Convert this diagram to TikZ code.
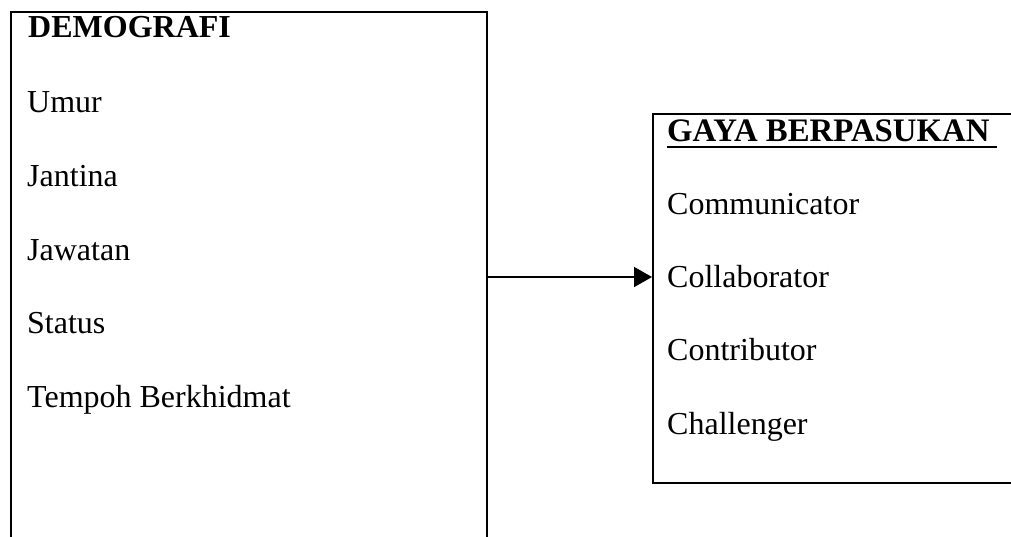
\documentclass[tikz,border=0pt]{standalone}
\usepackage{fontspec}
\setmainfont{Liberation Serif}
\usetikzlibrary{arrows.meta}
\begin{document}
\begin{tikzpicture}[x=1pt,y=-1pt,
  lbl/.style={anchor=base west, inner sep=0pt, font=\fontsize{32}{38}\selectfont},
  headlbl/.style={anchor=base west, inner sep=0pt, font=\fontsize{32}{38}\selectfont\bfseries},
  frame/.style={draw=black, line width=1.6pt, anchor=north west, inner sep=0pt},
  conn/.style={draw=black, line width=1.6pt, -{Triangle[length=18pt,width=20pt]}}]
\clip (0,0) rectangle (1011,536);
\useasboundingbox (0,0) rectangle (1011,536);
% boxes
\node[frame, minimum width=476pt, minimum height=560pt] (demo) at (10,11) {};
\node[frame, minimum width=420pt, minimum height=369pt] (gaya) at (652,113) {};
% left texts
\node[headlbl] (t0) at (28,37) {DEMOGRAFI};
\node[lbl] (t1) at (27,112) {Umur};
\node[lbl] (t2) at (27,186) {Jantina};
\node[lbl] (t3) at (27,260) {Jawatan};
\node[lbl] (t4) at (27,333) {Status};
\node[lbl] (t5) at (27,407) {Tempoh Berkhidmat};
% right texts
\node[headlbl, font=\fontsize{32.8}{38}\selectfont\bfseries] (g0) at (667,141) {GAYA BERPASUKAN};
\draw[line width=1.5pt] ([yshift=-6pt]g0.base west) -- ([xshift=7pt,yshift=-6pt]g0.base east);
\node[lbl] (g1) at (667,214) {Communicator};
\node[lbl] (g2) at (667,287) {Collaborator};
\node[lbl] (g3) at (667,360) {Contributor};
\node[lbl] (g4) at (667,434) {Challenger};
% connector
\coordinate (ay) at (0,277);
\draw[conn] (demo.east |- ay) -- (gaya.west |- ay);
\end{tikzpicture}
\end{document}
